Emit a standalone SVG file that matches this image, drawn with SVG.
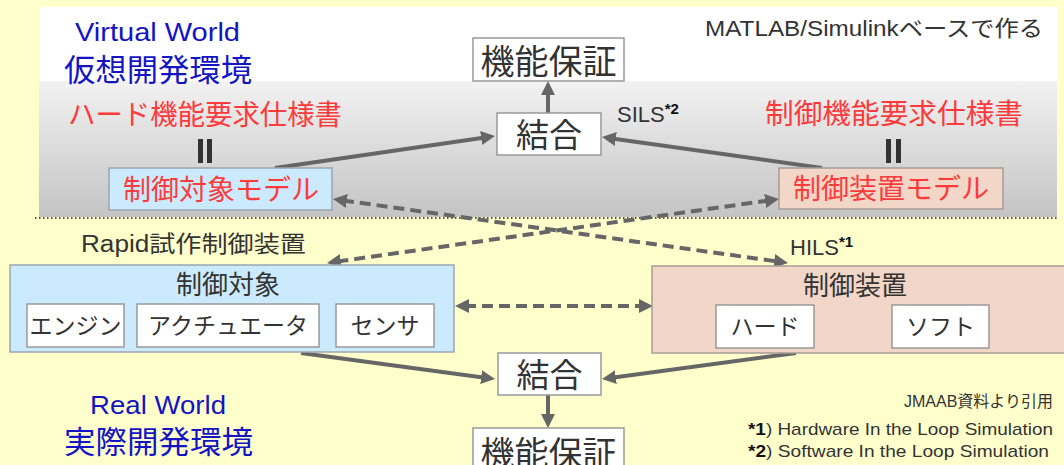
<svg xmlns="http://www.w3.org/2000/svg" width="1064" height="465" viewBox="0 0 1064 465">
<style>
text{font-family:"Noto Sans CJK JP","Noto Sans",sans-serif;}
.lat{font-family:"Liberation Sans","Noto Sans CJK JP",sans-serif;}
.blue{fill:#1414c4;}
.red{fill:#ff3a3a;}
.dark{fill:#333333;}
.box{fill:#ffffff;stroke:#999999;stroke-width:1.5;}
.blueBox{fill:#cceafd;stroke:#9aa6ae;stroke-width:1.5;}
.pinkBox{fill:#f2d6c8;stroke:#a89c96;stroke-width:1.5;}
.solid{stroke:#666666;stroke-width:4;fill:none;marker-end:url(#ah);}
.dash{stroke:#666666;stroke-width:4;fill:none;stroke-dasharray:11 6;marker-end:url(#ah);marker-start:url(#ah);}
.bar{fill:#333333;}
</style>
<defs>
<linearGradient id="virt" x1="0" y1="0" x2="0" y2="1">
<stop offset="0" stop-color="#f2f2f2"/>
<stop offset="1" stop-color="#c4c4c4"/>
</linearGradient>
<marker id="ah" viewBox="0 0 14 14" refX="4" refY="7" markerWidth="14" markerHeight="14" markerUnits="userSpaceOnUse" orient="auto-start-reverse">
<path d="M0,0 L14,7 L0,14 z" fill="#666666"/>
</marker>
</defs>
<rect x="0" y="0" width="1064" height="465" fill="#ffffcc"/>
<g id="virtual-area">
<rect x="39" y="7" width="1018" height="74" fill="#ffffff"/>
<rect x="39" y="81" width="1018" height="136" fill="url(#virt)"/>
<line x1="35" y1="218" x2="1057" y2="218" stroke="#555555" stroke-width="2" stroke-dasharray="1.5 2.5"/>
</g>
<g id="titles">
<text x="75" y="41" font-size="26" class="blue lat" textLength="165" lengthAdjust="spacingAndGlyphs">Virtual World</text>
<text x="64" y="81" font-size="31" class="blue" textLength="188" lengthAdjust="spacingAndGlyphs">仮想開発環境</text>
<text x="90" y="414" font-size="25" class="blue lat" textLength="136" lengthAdjust="spacingAndGlyphs">Real World</text>
<text x="64" y="453" font-size="31" class="blue" textLength="189" lengthAdjust="spacingAndGlyphs">実際開発環境</text>
<text x="705" y="36" font-size="22" class="dark lat" textLength="338" lengthAdjust="spacingAndGlyphs">MATLAB/Simulinkベースで作る</text>
<text x="68" y="125" font-size="28" class="red" textLength="274" lengthAdjust="spacingAndGlyphs">ハード機能要求仕様書</text>
<text x="765" y="124" font-size="28" class="red" textLength="258" lengthAdjust="spacingAndGlyphs">制御機能要求仕様書</text>
<rect class="bar" x="198" y="139" width="5" height="24"/>
<rect class="bar" x="207" y="139" width="5" height="24"/>
<rect class="bar" x="886" y="139" width="5" height="24"/>
<rect class="bar" x="896" y="139" width="5" height="24"/>
<text x="617" y="122" font-size="22" class="dark lat">SILS<tspan font-size="15" font-weight="bold" fill="#111" dy="-8">*2</tspan></text>
<text x="81" y="252" font-size="23" class="dark lat" textLength="225" lengthAdjust="spacingAndGlyphs">Rapid試作制御装置</text>
<text x="790" y="255" font-size="22" class="dark lat">HILS<tspan font-size="15" font-weight="bold" fill="#111" dy="-8">*1</tspan></text>
<text x="1053" y="407" font-size="16" class="dark lat" text-anchor="end">JMAAB資料より引用</text>
<text x="748" y="435" font-size="17" class="dark lat" textLength="305" lengthAdjust="spacingAndGlyphs"><tspan font-weight="bold" fill="#111">*1</tspan>) Hardware In the Loop Simulation</text>
<text x="748" y="457" font-size="17" class="dark lat" textLength="301" lengthAdjust="spacingAndGlyphs"><tspan font-weight="bold" fill="#111">*2</tspan>) Software In the Loop Simulation</text>
</g>
<g id="connectors">
<line class="solid" x1="548" y1="113" x2="548" y2="91"/>
<line class="solid" x1="275" y1="168" x2="485.1" y2="137.4"/>
<line class="solid" x1="822" y1="168" x2="611.9" y2="138.4"/>
<line class="solid" x1="301" y1="353" x2="485.1" y2="377.7"/>
<line class="solid" x1="796" y1="353" x2="611.9" y2="377.7"/>
<line class="solid" x1="548" y1="395" x2="548" y2="418"/>
<line class="dash" x1="342.9" y1="200.4" x2="778.1" y2="261.6"/>
<line class="dash" x1="769.1" y1="200.4" x2="336.9" y2="261.6"/>
<line class="dash" x1="465" y1="306" x2="643" y2="306"/>
</g>
<g id="node-kinou-top">
<rect class="box" x="473" y="38" width="151" height="43"/>
<text x="548.5" y="74" font-size="34" class="dark" text-anchor="middle">機能保証</text>
</g>
<g id="node-ketsugou-top">
<rect class="box" x="497" y="113" width="104" height="42"/>
<text x="549" y="147" font-size="33" class="dark" text-anchor="middle">結合</text>
</g>
<g id="node-taisho-model">
<rect class="blueBox" x="109" y="168" width="223" height="42"/>
<text x="221" y="200" font-size="28" class="red" text-anchor="middle">制御対象モデル</text>
</g>
<g id="node-sochi-model">
<rect class="pinkBox" x="779" y="168" width="224" height="41"/>
<text x="891" y="199" font-size="28" class="red" text-anchor="middle">制御装置モデル</text>
</g>
<g id="node-taisho">
<rect class="blueBox" x="10" y="265" width="444" height="87"/>
<text x="228" y="294" font-size="26" class="dark" text-anchor="middle">制御対象</text>
<rect class="box" x="27" y="304" width="97" height="43"/>
<text x="75.5" y="334" font-size="23" class="dark" text-anchor="middle">エンジン</text>
<rect class="box" x="137" y="304" width="182" height="43"/>
<text x="228" y="334" font-size="23" class="dark" text-anchor="middle">アクチュエータ</text>
<rect class="box" x="336" y="304" width="98" height="43"/>
<text x="385" y="334" font-size="23" class="dark" text-anchor="middle">センサ</text>
</g>
<g id="node-sochi">
<rect class="pinkBox" x="652" y="266" width="414" height="87"/>
<text x="855" y="295" font-size="26" class="dark" text-anchor="middle">制御装置</text>
<rect class="box" x="716" y="305" width="98" height="43"/>
<text x="765" y="335" font-size="23" class="dark" text-anchor="middle">ハード</text>
<rect class="box" x="892" y="305" width="97" height="43"/>
<text x="940.5" y="335" font-size="23" class="dark" text-anchor="middle">ソフト</text>
</g>
<g id="node-ketsugou-bottom">
<rect class="box" x="498" y="353" width="103" height="42"/>
<text x="549.5" y="387" font-size="33" class="dark" text-anchor="middle">結合</text>
</g>
<g id="node-kinou-bottom">
<rect class="box" x="473" y="428" width="151" height="45"/>
<text x="548.5" y="466" font-size="34" class="dark" text-anchor="middle">機能保証</text>
</g>
</svg>
